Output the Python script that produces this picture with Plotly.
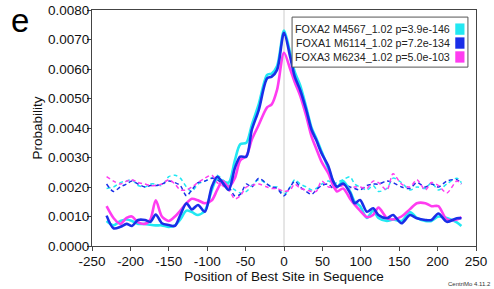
import plotly.graph_objects as go

positions = [-231, -222, -213, -205, -198, -190, -181, -174, -167, -159, -150, -142, -135, -127,
             -120, -112, -103, -94, -87, -80, -72, -64, -57, -49, -42, -33, -22, -16, -9, 0,
             8, 14, 21, 29, 36, 42, 49, 58, 64, 69, 77, 86, 92, 99, 108, 116, 123, 134, 142,
             153, 164, 173, 184, 192, 201, 212, 225, 231]

# site probability (x 1e-3)
foxa2_site = [0.85, 0.70, 0.85, 0.90, 0.85, 0.75, 0.75, 0.72, 0.70, 0.70, 0.65, 0.70, 0.90, 1.20,
              1.15, 1.05, 1.20, 1.90, 2.30, 2.20, 2.15, 2.90, 3.45, 3.50, 4.10, 4.80, 5.80, 5.85, 6.10, 7.30,
              6.55, 5.90, 5.45, 4.70, 4.00, 3.65, 3.20, 2.60, 2.20, 2.00, 2.20, 1.85, 1.50, 1.35, 0.95, 1.20, 0.95,
              0.85, 0.90, 0.85, 1.15, 0.95, 0.85, 0.85, 1.00, 0.95, 0.80, 0.68]
foxa1_site = [1.03, 0.60, 0.65, 0.75, 0.68, 0.88, 0.88, 0.82, 1.07, 0.77, 0.71, 0.68, 1.05, 1.45,
              1.24, 1.39, 1.16, 2.01, 2.35, 2.15, 1.90, 2.64, 3.03, 3.03, 3.93, 4.60, 5.68, 5.74, 5.97, 7.23,
              6.42, 5.74, 5.29, 4.61, 3.93, 3.59, 3.14, 2.69, 2.20, 2.01, 2.12, 1.80, 1.45, 1.56, 1.16, 1.28, 1.05,
              0.94, 1.05, 0.77, 1.05, 0.94, 0.88, 0.88, 1.10, 0.82, 0.94, 0.94]
foxa3_site = [1.35, 0.95, 0.75, 0.95, 1.00, 0.80, 0.75, 0.90, 1.55, 1.00, 0.85, 1.00, 1.20, 1.45,
              1.60, 1.55, 1.45, 1.55, 1.90, 2.20, 2.00, 2.30, 2.90, 3.05, 3.60, 4.10, 4.70, 4.80, 5.30, 6.55,
              6.00, 5.55, 5.10, 4.40, 3.70, 3.30, 2.85, 2.45, 2.05, 1.85, 1.95, 1.60, 1.40, 1.20, 0.98, 1.05, 1.30,
              0.95, 0.90, 1.00, 1.25, 1.45, 1.45, 1.35, 1.35, 0.90, 0.90, 0.98]

# background / null probability (x 1e-3)
foxa2_null = [1.95, 2.00, 2.15, 2.20, 2.25, 2.05, 2.00, 2.10, 2.10, 2.05, 2.35, 2.40, 2.30, 2.00,
              1.85, 2.10, 2.20, 2.30, 2.40, 2.25, 2.05, 1.90, 1.80, 1.85, 2.05, 2.25, 2.10, 2.00, 2.00, 1.75,
              2.00, 2.25, 2.10, 2.00, 1.90, 1.95, 2.10, 2.20, 2.10, 2.15, 2.25, 2.35, 2.10, 2.00, 1.90, 2.05, 1.85,
              1.95, 2.30, 2.15, 1.90, 2.00, 1.95, 2.15, 1.90, 2.10, 2.30, 2.15]
foxa1_null = [2.10, 1.85, 2.00, 2.10, 2.20, 2.10, 2.00, 2.05, 2.05, 2.10, 2.20, 2.15, 2.05, 1.70,
              1.90, 2.15, 2.20, 2.30, 2.25, 2.10, 2.00, 1.70, 1.75, 2.10, 2.00, 2.30, 2.10, 2.00, 1.95, 1.70,
              2.00, 2.20, 2.00, 1.85, 1.75, 1.90, 2.05, 2.10, 1.95, 2.00, 2.10, 2.00, 1.95, 1.90, 2.05, 2.10, 2.10,
              2.20, 2.15, 2.00, 1.95, 2.15, 2.00, 2.10, 2.00, 2.20, 2.25, 2.10]
foxa3_null = [2.35, 2.20, 2.10, 2.20, 2.25, 2.15, 2.10, 2.05, 2.05, 2.10, 2.25, 2.10, 1.90, 1.90,
              2.00, 2.15, 2.30, 2.40, 2.15, 2.05, 1.90, 1.60, 1.70, 2.00, 2.05, 2.10, 2.00, 1.95, 1.95, 1.85,
              1.90, 2.10, 1.95, 1.90, 1.85, 1.85, 2.20, 2.00, 2.00, 1.95, 2.05, 1.95, 2.00, 2.00, 1.95, 2.20, 2.15,
              1.90, 2.45, 2.10, 2.00, 2.25, 1.90, 2.15, 2.05, 1.80, 2.20, 2.10]

series_names = ["FOXA2 M4567_1.02 p=3.9e-146",
                "FOXA1 M6114_1.02 p=7.2e-134",
                "FOXA3 M6234_1.02 p=5.0e-103"]
series_colors = ["#22E8F2", "#1A2EE8", "#FF3CF0"]

x_ticks = [-250, -200, -150, -100, -50, 0, 50, 100, 150, 200, 250]
y_ticks = [0.0, 0.001, 0.002, 0.003, 0.004, 0.005, 0.006, 0.007, 0.008]

FONT = "Liberation Sans, Arial, Helvetica, sans-serif"

fig = go.Figure()

sites = [foxa2_site, foxa1_site, foxa3_site]
nulls = [foxa2_null, foxa1_null, foxa3_null]

for vals, col, name in zip(nulls, series_colors, series_names):
    fig.add_trace(go.Scatter(x=positions, y=[v / 1000 for v in vals], mode="lines",
                             line=dict(color=col, width=1.5, dash="4px,3px", shape="spline", smoothing=0.8),
                             showlegend=False, name=name + " (null)"))
# draw FOXA2 then FOXA3 then FOXA1 so blue is on top where overlapping
for idx in [0, 2, 1]:
    fig.add_trace(go.Scatter(x=positions, y=[v / 1000 for v in sites[idx]], mode="lines",
                             line=dict(color=series_colors[idx], width=2.6, shape="spline", smoothing=0.8),
                             showlegend=False, name=series_names[idx]))

# light vertical line at 0
fig.add_shape(type="line", xref="x", yref="paper", x0=0, x1=0, y0=0, y1=1,
              line=dict(color="#cccccc", width=1), layer="below")

# manual legend (text, swatch right of text)
fig.add_shape(type="rect", xref="paper", yref="paper", x0=0.521, x1=0.979, y0=0.758, y1=0.970,
              line=dict(color="#555555", width=1), fillcolor="white", layer="above")
row_y = [0.919, 0.860, 0.801]
for name, col, ry in zip(series_names, series_colors, row_y):
    fig.add_annotation(xref="paper", yref="paper", x=0.9375, y=ry, text=name, showarrow=False,
                       xanchor="right", yanchor="middle", font=dict(family=FONT, size=10.7, color="#222222"))
    fig.add_shape(type="rect", xref="paper", yref="paper", x0=0.946, x1=0.970,
                  y0=ry - 0.024, y1=ry + 0.024, line=dict(width=0), fillcolor=col, layer="above")

# panel letter
fig.add_annotation(xref="paper", yref="paper", x=-0.215, y=1.042, text="e", showarrow=False,
                   xanchor="left", yanchor="top", font=dict(family=FONT, size=33, color="black"))
# program tag
fig.add_annotation(xref="paper", yref="paper", x=1.045, y=-0.14, text="CentriMo 4.11.2", showarrow=False,
                   xanchor="right", yanchor="top", font=dict(family=FONT, size=6, color="#333333"))

fig.update_layout(
    width=494, height=289,
    margin=dict(l=92, r=18, t=10, b=43, autoexpand=False),
    paper_bgcolor="white", plot_bgcolor="white",
    font=dict(family=FONT, size=13, color="#111111"),
    showlegend=False,
    xaxis2=dict(overlaying="x", side="top", range=[-250, 250], tickvals=x_ticks,
                ticks="inside", ticklen=4, tickcolor="#444", showticklabels=False,
                showgrid=False, zeroline=False, showline=False),
)
fig.update_xaxes(selector=dict(anchor="y"))
fig.update_layout(xaxis=dict(range=[-250, 250], tickvals=x_ticks, ticktext=[str(v) for v in x_ticks],
                             ticks="outside", ticklen=4, tickcolor="#444", showline=True, linecolor="#444",
                             linewidth=1, mirror=True, showgrid=False, zeroline=False, automargin=False,
                             ticklabelstandoff=-1,
                             title=dict(text="Position of Best Site in Sequence", standoff=3,
                                        font=dict(family=FONT, size=13.5)),
                             tickfont=dict(family=FONT, size=13.5)))
fig.update_yaxes(range=[0, 0.008], tickvals=y_ticks, ticktext=[f"{v:.4f}" for v in y_ticks],
                 ticks="outside", ticklen=4, tickcolor="#444", showline=True, linecolor="#444",
                 linewidth=1, mirror=True, showgrid=False, zeroline=False, automargin=False,
                 ticklabelstandoff=-5,
                 title=dict(text="Probability", standoff=2, font=dict(family=FONT, size=13.5)),
                 tickfont=dict(family=FONT, size=13.5))

fig.write_html("out.html", config={"displayModeBar": False},
               post_script="document.body.style.margin='0px';document.body.style.padding='0px';")
